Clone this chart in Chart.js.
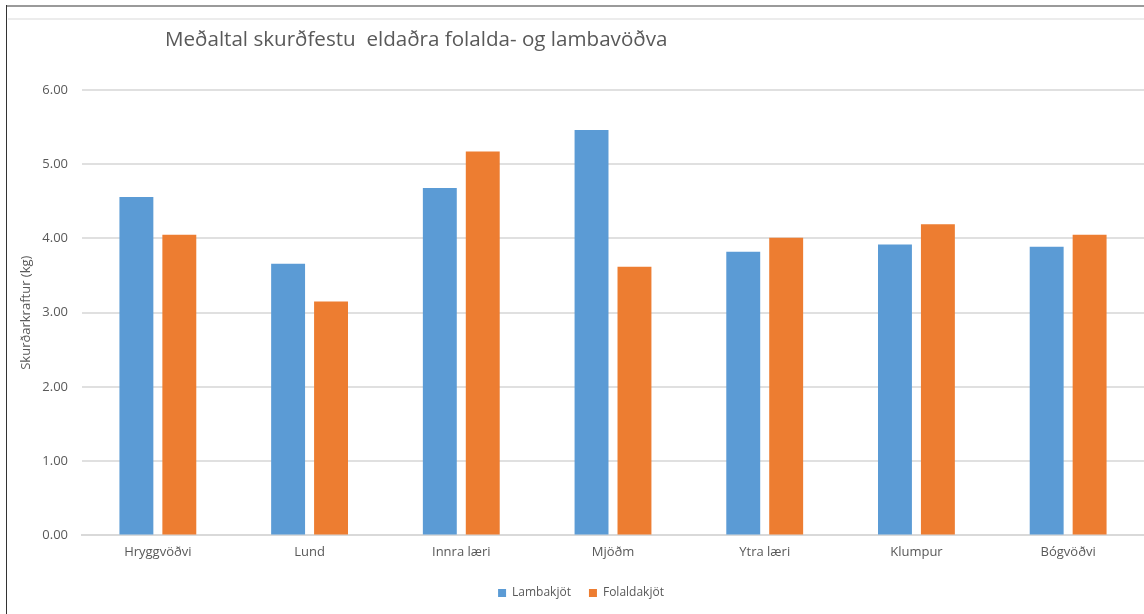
<!DOCTYPE html>
<html><head><meta charset="utf-8">
<script src="https://cdn.jsdelivr.net/npm/chart.js@4.4.1/dist/chart.umd.min.js"></script>
<style>
html,body{margin:0;padding:0;background:#fff;width:1144px;height:614px;overflow:hidden;position:relative}
#wrap{position:absolute;left:0;top:0;width:1144px;height:614px}
.ft{position:absolute;left:7px;top:5px;width:1137px;height:0;border-top:2px solid #9a9a9a}
.fl{position:absolute;left:6px;top:5px;width:0;height:609px;border-left:1.5px solid #333}
.fi{position:absolute;left:8px;top:18px;width:1136px;height:0;border-top:2px solid #ececec}
</style></head>
<body>
<div id="wrap"><canvas id="c" width="1144" height="614" style="width:1144px;height:614px"></canvas></div>
<div class="ft"></div><div class="fl"></div><div class="fi"></div>
<script>
const categories = ["Hryggvöðvi","Lund","Innra læri","Mjöðm","Ytra læri","Klumpur","Bógvöðvi"];
const lambakjot = [4.56, 3.66, 4.68, 5.46, 3.82, 3.92, 3.89];
const folaldakjot = [4.05, 3.15, 5.17, 3.62, 4.01, 4.19, 4.05];
const titleText = "Meðaltal skurðfestu  eldaðra folalda- og lambavöðva";
const yTitle = "Skurðarkraftur (kg)";
const seriesNames = ["Lambakjöt","Folaldakjöt"];

const FONT = "'Open Sans', Lato, sans-serif";
const GRAY = "#595959";

const titlePlugin = {
  id: 'customTitle',
  afterDraw(chart){
    const ctx = chart.ctx;
    ctx.save();
    ctx.font = "20.6px " + FONT;
    ctx.fillStyle = GRAY;
    ctx.textBaseline = "middle";
    ctx.textAlign = "left";
    ctx.fillText(titleText, 165, 40);
    ctx.restore();
  }
};

new Chart(document.getElementById('c'), {
  type: 'bar',
  data: {
    labels: categories,
    datasets: [
      {label: seriesNames[0], data: lambakjot, backgroundColor: '#5B9BD5', borderWidth: 0},
      {label: seriesNames[1], data: folaldakjot, backgroundColor: '#ED7D31', borderWidth: 0}
    ]
  },
  options: {
    responsive: false,
    animation: false,
    devicePixelRatio: 1,
    categoryPercentage: 0.566,
    barPercentage: 0.79,
    layout: {padding: {left: 18, right: 0, top: 90, bottom: 5}},
    plugins: {
      title: {display: false},
      tooltip: {enabled: false},
      legend: {
        position: 'bottom',
        labels: {
          boxWidth: 8, boxHeight: 8, padding: 18,
          color: GRAY, font: {family: FONT, size: 12}
        }
      }
    },
    scales: {
      x: {
        grid: {display: false, drawTicks: false},
        border: {display: true, color: '#d9d9d9', width: 2},
        ticks: {color: GRAY, font: {family: FONT, size: 13}, padding: 9}
      },
      y: {
        min: 0, max: 6,
        afterFit: s => { s.width = 64; },
        grid: {color: '#e0e0e0', lineWidth: 2, drawTicks: false},
        border: {display: false},
        ticks: {
          stepSize: 1, color: GRAY, font: {family: FONT, size: 13}, padding: 14,
          callback: v => Number(v).toFixed(2)
        },
        title: {display: true, text: yTitle, color: GRAY, font: {family: FONT, size: 13}, padding: {top: 0, bottom: 4}}
      }
    }
  },
  plugins: [titlePlugin]
});
</script>
</body></html>
